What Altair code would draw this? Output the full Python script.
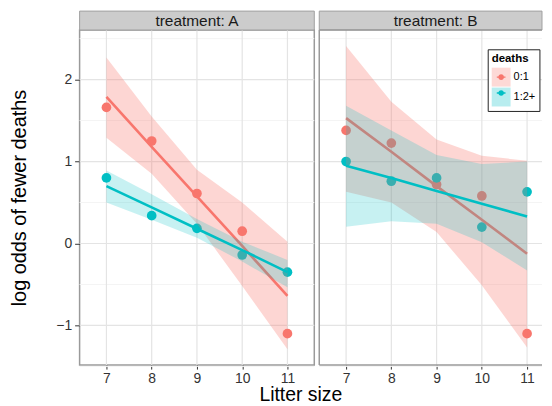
import altair as alt
import pandas as pd

# ---------------- data ----------------
litter = [7, 8, 9, 10, 11]
groups = ["0:1", "1:2+"]
group_colors = ["#F8766D", "#00BFC4"]
band_opacity = [0.3, 0.22]
treatments = ["A", "B"]
strip_labels = ["treatment: A", "treatment: B"]

# observed log odds
obs_A_01 = [1.66, 1.25, 0.61, 0.15, -1.10]
obs_A_12 = [0.80, 0.34, 0.185, -0.14, -0.35]
obs_B_01 = [1.38, 1.225, 0.72, 0.58, -1.10]
obs_B_12 = [1.00, 0.76, 0.80, 0.20, 0.63]

# fitted lines and confidence bands
fit_A_01 = [1.79, 1.18, 0.575, -0.03, -0.64]
upr_A_01 = [2.27, 1.55, 0.90, 0.50, 0.02]
lwr_A_01 = [1.29, 0.85, 0.24, -0.52, -1.29]

fit_A_12 = [0.70, 0.44, 0.18, -0.08, -0.35]
upr_A_12 = [0.89, 0.60, 0.30, 0.02, -0.20]
lwr_A_12 = [0.50, 0.29, 0.07, -0.22, -0.535]

fit_B_01 = [1.53, 1.12, 0.70, 0.29, -0.125]
upr_B_01 = [2.41, 1.73, 1.27, 1.07, 1.01]
lwr_B_01 = [0.63, 0.50, 0.14, -0.51, -1.27]

fit_B_12 = [0.95, 0.80, 0.64, 0.485, 0.33]
upr_B_12 = [1.68, 1.38, 1.08, 0.97, 1.00]
lwr_B_12 = [0.205, 0.27, 0.24, 0.016, -0.33]

y_major = [-1, 0, 1, 2]
y_minor = [-1.5, -0.5, 0.5, 1.5, 2.5]
x_domains = [[6.407, 11.593], [6.407, 11.33]]   # panel B is cut at the right edge
y_domain = [-1.484, 2.605]

# ---------------- tables ----------------
obs_parts = []
for t, g, v in [("A", "0:1", obs_A_01), ("A", "1:2+", obs_A_12),
                ("B", "0:1", obs_B_01), ("B", "1:2+", obs_B_12)]:
    obs_parts.append(pd.DataFrame({"treatment": t, "deaths": g, "litter": litter, "logodds": v}))
obs = pd.concat(obs_parts, ignore_index=True)

fit_parts = []
for t, g, f, u, l in [("A", "0:1", fit_A_01, upr_A_01, lwr_A_01),
                      ("A", "1:2+", fit_A_12, upr_A_12, lwr_A_12),
                      ("B", "0:1", fit_B_01, upr_B_01, lwr_B_01),
                      ("B", "1:2+", fit_B_12, upr_B_12, lwr_B_12)]:
    fit_parts.append(pd.DataFrame({"treatment": t, "band": g, "litter": litter,
                                   "fit": f, "upper": u, "lower": l}))
fits = pd.concat(fit_parts, ignore_index=True)

H = 337
WIDTHS = [236, 224]
FONT = "Liberation Sans"
BORDER = "#9a9a9a"

LEG_X = 410.4
LEG_Y = 19.4
sym_path = ("M-0.5,-0.5L-0.5,-0.5 M0.5,0.5L0.5,0.5 "
            "M-0.46,-0.075H0.46V0.075H-0.46Z "
            "M0.3,0A0.3,0.3,0,1,1,-0.3,0A0.3,0.3,0,1,1,0.3,0Z")

common_leg = dict(orient="none", legendX=LEG_X, legendY=LEG_Y, title="deaths",
                  titleFontSize=11.5, titleFontWeight="bold", titleFont=FONT,
                  labelFontSize=11, labelFont=FONT, symbolSize=361,
                  symbolStrokeWidth=0, padding=4, titlePadding=3, rowPadding=1,
                  labelOffset=3)

band_legend = alt.Legend(symbolType="square", symbolOpacity=0.28,
                         fillColor="#ffffff", strokeColor="#222222",
                         titleColor="#000000", labelColor="#000000", **common_leg)
point_legend = alt.Legend(symbolType=sym_path, symbolOpacity=1,
                          titleColor="transparent", labelColor="transparent",
                          **common_leg)


def panel(i):
    t = treatments[i]
    width = WIDTHS[i]
    first = i == 0
    xs = alt.Scale(domain=x_domains[i], nice=False, zero=False)
    ys = alt.Scale(domain=y_domain, nice=False, zero=False)

    o = obs[obs.treatment == t]
    f = fits[fits.treatment == t]

    if first:
        xaxis = alt.Axis(values=litter, title="Litter size", titleX=222, titleY=36,
                         titleBaseline="alphabetic", titleFontSize=19.5,
                         titleFontWeight="normal", titleColor="#000000", titleFont=FONT,
                         labelFontSize=14, labelColor="#333333", labelFont=FONT,
                         tickSize=4, tickColor="#333333", labelPadding=2,
                         grid=False, domain=False)
        yaxis = alt.Axis(values=y_major, title="log odds of fewer deaths",
                         titleFontSize=20, titleFontWeight="normal", titleColor="#000000",
                         titleFont=FONT, titlePadding=26,
                         labelFontSize=14, labelColor="#333333", labelFont=FONT,
                         tickSize=5, tickColor="#333333", labelPadding=3,
                         grid=False, domain=False)
    else:
        xaxis = alt.Axis(values=litter, title=None,
                         labelFontSize=14, labelColor="#333333", labelFont=FONT,
                         tickSize=4, tickColor="#333333", labelPadding=2,
                         grid=False, domain=False)
        yaxis = None

    def X(field):
        return alt.X(f"{field}:Q", scale=xs, axis=xaxis)

    def Y(field):
        return alt.Y(f"{field}:Q", scale=ys, axis=yaxis)

    band_fill = alt.Fill("band:N", scale=alt.Scale(domain=groups, range=group_colors),
                         legend=band_legend)

    # invisible layer that only carries the band legend (so it is drawn first)
    legend_carrier = alt.Chart(f).mark_area(opacity=0).encode(
        x=X("litter"), y=Y("lower"), y2="upper:Q", fill=band_fill)

    gmin = alt.Chart(pd.DataFrame({"v": y_minor})).mark_rule(
        color="#f4f4f4", strokeWidth=1).encode(y=Y("v"))
    gmaj_y = alt.Chart(pd.DataFrame({"v": y_major})).mark_rule(
        color="#e4e4e4", strokeWidth=1.2).encode(y=Y("v"))
    gmaj_x = alt.Chart(pd.DataFrame({"v": litter})).mark_rule(
        color="#e4e4e4", strokeWidth=1.2).encode(x=X("v"))

    points = alt.Chart(o).mark_circle(size=95, opacity=1).encode(
        x=X("litter"),
        y=Y("logodds"),
        color=alt.Color("deaths:N", scale=alt.Scale(range=group_colors),
                        legend=point_legend),
    )

    layers = [legend_carrier, gmin, gmaj_y, gmaj_x, points]
    for g, col, op in zip(groups, group_colors, band_opacity):
        fg = f[f.band == g]
        ribbon = alt.Chart(fg).mark_area(opacity=op).encode(
            x=X("litter"), y=Y("lower"), y2="upper:Q", fill=band_fill)
        line = alt.Chart(fg).mark_line(color=col, strokeWidth=2.6).encode(
            x=X("litter"), y=Y("fit"))
        layers += [ribbon, line]

    strip_df = pd.DataFrame({"label": [strip_labels[i]]})
    strip_rect = alt.Chart(strip_df).mark_rect(
        fill="#cccccc", stroke="#a0a0a0", strokeWidth=1).encode(
        x=alt.value(0), x2=alt.value(width), y=alt.value(-19), y2=alt.value(0))
    strip_text = alt.Chart(strip_df).mark_text(
        font=FONT, fontSize=15.5, color="#1a1a1a", baseline="middle").encode(
        text="label:N", x=alt.value(WIDTHS[0] / 2 if first else 117), y=alt.value(-9.5))
    layers += [strip_rect, strip_text]

    if first:
        return alt.layer(*layers).properties(width=width, height=H)

    # panel B: right border is cut off in the reference, draw the other three
    border_left = alt.Chart(strip_df).mark_rule(color=BORDER, strokeWidth=1.5).encode(
        x=alt.value(0), y=alt.value(0), y2=alt.value(H))
    border_top = alt.Chart(strip_df).mark_rule(color=BORDER, strokeWidth=1.5).encode(
        x=alt.value(0), x2=alt.value(width), y=alt.value(0))
    border_bottom = alt.Chart(strip_df).mark_rule(color=BORDER, strokeWidth=1.5).encode(
        x=alt.value(0), x2=alt.value(width), y=alt.value(H))
    layers += [border_left, border_top, border_bottom]
    return alt.layer(*layers).properties(
        width=width, height=H, view=alt.ViewBackground(stroke="transparent"))


chart = alt.hconcat(panel(0), panel(1), spacing=5, bounds="flush").properties(
    padding={"left": 1, "top": 0, "right": 0, "bottom": 0}
).configure_view(stroke=BORDER, strokeWidth=1.5)

chart.save("out.html", embed_options={"renderer": "svg", "actions": False})
